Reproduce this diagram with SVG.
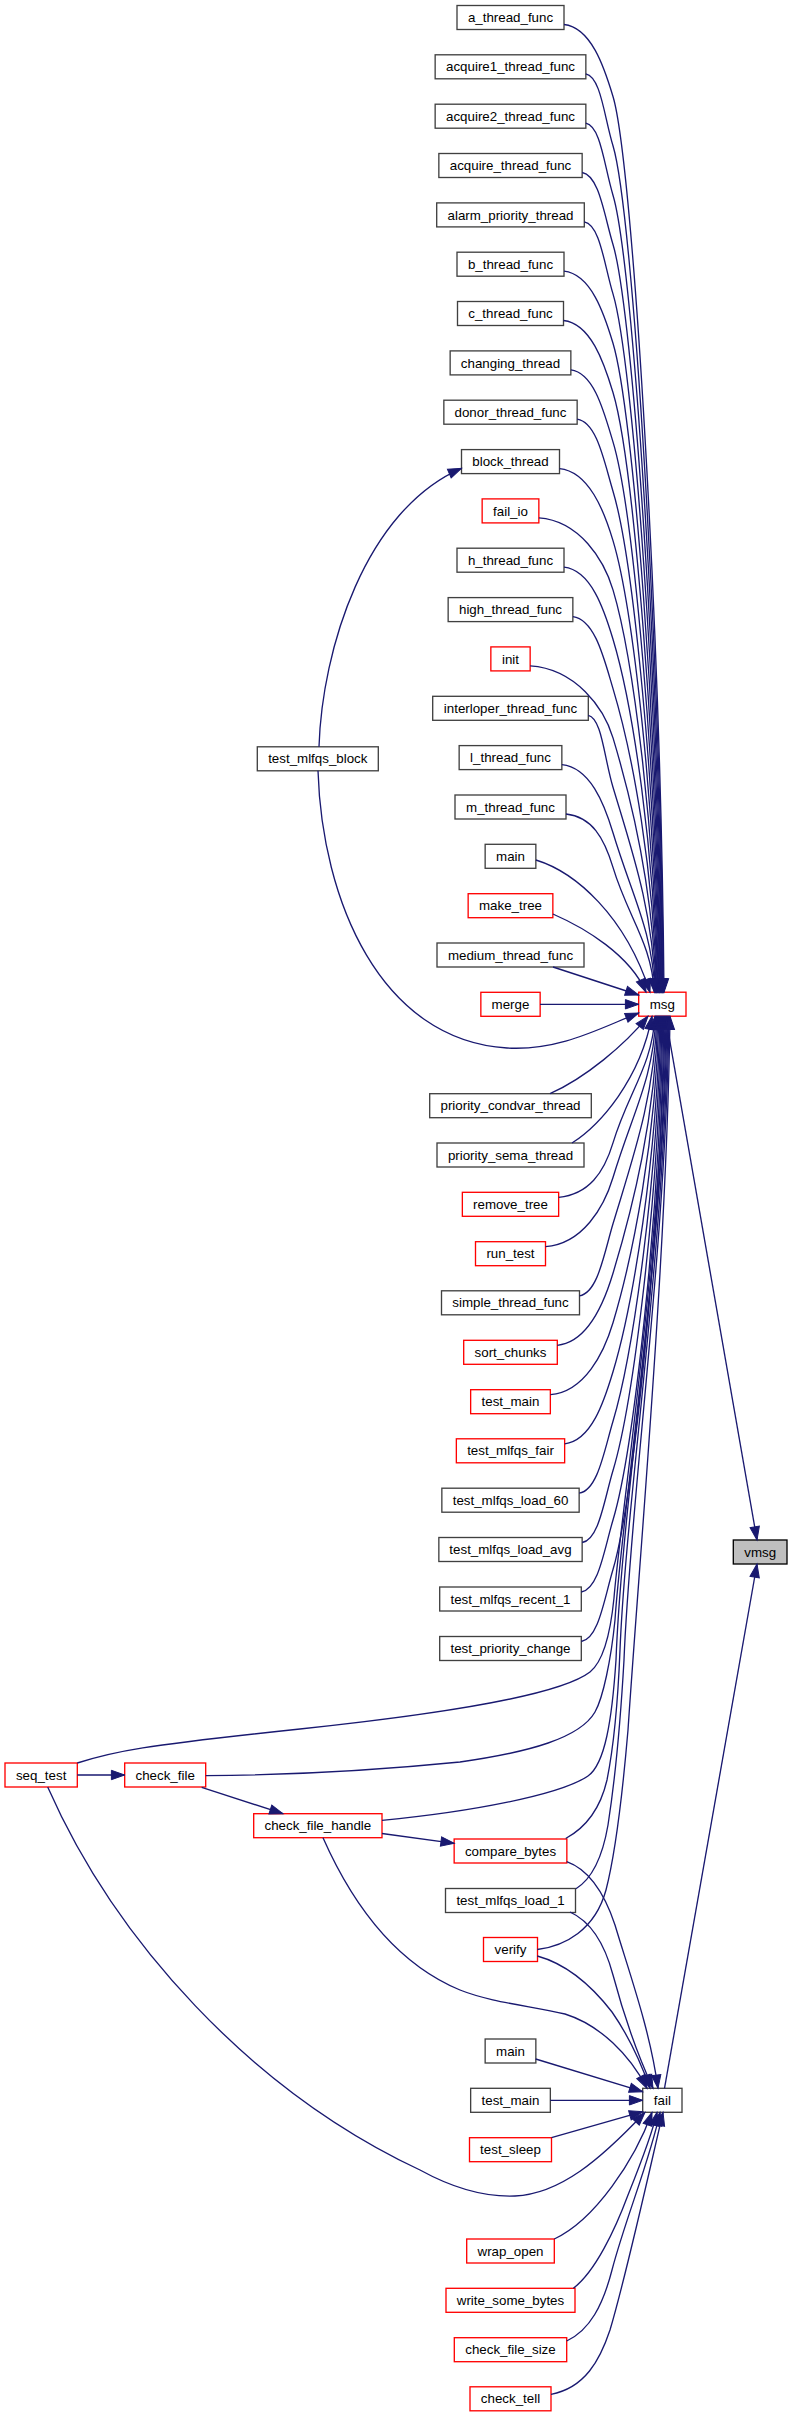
<svg xmlns="http://www.w3.org/2000/svg" width="792" height="2417" viewBox="0 0 792 2417">
<style>
.n rect{fill:#ffffff;stroke:#404040;stroke-width:1.33}
.r rect{fill:#ffffff;stroke:#ff0000;stroke-width:1.33}
.g rect{fill:#bfbfbf;stroke:#000000;stroke-width:1.33}
text{font-family:"Liberation Sans",Arial,Helvetica,sans-serif;font-size:13.33px;text-anchor:middle;fill:#000000}
#edges path{fill:none;stroke:#191970;stroke-width:1.33;marker-end:url(#ah)}
</style>
<defs>
<marker id="ah" viewBox="0 0 14 10" refX="13.3" refY="5" markerWidth="14" markerHeight="10" markerUnits="userSpaceOnUse" orient="auto" overflow="visible">
<path d="M0,0.3 L13.3,5 L0,9.7 Z" fill="#191970" stroke="#191970" stroke-width="1"/>
</marker>
</defs>
<rect x="0" y="0" width="792" height="2417" fill="#ffffff"/>
<g id="nodes">
<g id="n_a_thread_func" class="n"><rect x="457" y="5.5" width="107" height="24"/><text x="510.5" y="22.1">a_thread_func</text></g>
<g id="n_acquire1_thread_func" class="n"><rect x="435.15" y="54.8" width="150.7" height="24"/><text x="510.5" y="71.4">acquire1_thread_func</text></g>
<g id="n_acquire2_thread_func" class="n"><rect x="435.15" y="104.2" width="150.7" height="24"/><text x="510.5" y="120.8">acquire2_thread_func</text></g>
<g id="n_acquire_thread_func" class="n"><rect x="438.85" y="153.5" width="143.3" height="24"/><text x="510.5" y="170.1">acquire_thread_func</text></g>
<g id="n_alarm_priority_thread" class="n"><rect x="436.7" y="202.9" width="147.6" height="24"/><text x="510.5" y="219.5">alarm_priority_thread</text></g>
<g id="n_b_thread_func" class="n"><rect x="457" y="252.2" width="107" height="24"/><text x="510.5" y="268.8">b_thread_func</text></g>
<g id="n_c_thread_func" class="n"><rect x="457.5" y="301.5" width="106" height="24"/><text x="510.5" y="318.1">c_thread_func</text></g>
<g id="n_changing_thread" class="n"><rect x="450.15" y="350.9" width="120.7" height="24"/><text x="510.5" y="367.5">changing_thread</text></g>
<g id="n_donor_thread_func" class="n"><rect x="443.85" y="400.2" width="133.3" height="24"/><text x="510.5" y="416.8">donor_thread_func</text></g>
<g id="n_block_thread" class="n"><rect x="461.5" y="449.6" width="98" height="24"/><text x="510.5" y="466.2">block_thread</text></g>
<g id="n_fail_io" class="r"><rect x="482.15" y="498.9" width="56.7" height="24"/><text x="510.5" y="515.5">fail_io</text></g>
<g id="n_h_thread_func" class="n"><rect x="457" y="548.2" width="107" height="24"/><text x="510.5" y="564.8">h_thread_func</text></g>
<g id="n_high_thread_func" class="n"><rect x="448.15" y="597.6" width="124.7" height="24"/><text x="510.5" y="614.2">high_thread_func</text></g>
<g id="n_init" class="r"><rect x="490.85" y="646.9" width="39.3" height="24"/><text x="510.5" y="663.5">init</text></g>
<g id="n_interloper_thread_func" class="n"><rect x="432.7" y="696.3" width="155.6" height="24"/><text x="510.5" y="712.9">interloper_thread_func</text></g>
<g id="n_l_thread_func" class="n"><rect x="459.15" y="745.6" width="102.7" height="24"/><text x="510.5" y="762.2">l_thread_func</text></g>
<g id="n_m_thread_func" class="n"><rect x="455" y="795" width="111" height="24"/><text x="510.5" y="811.6">m_thread_func</text></g>
<g id="n_main1" class="n"><rect x="485.15" y="844.3" width="50.7" height="24"/><text x="510.5" y="860.9">main</text></g>
<g id="n_make_tree" class="r"><rect x="468.15" y="893.7" width="84.7" height="24"/><text x="510.5" y="910.3">make_tree</text></g>
<g id="n_medium_thread_func" class="n"><rect x="437" y="943" width="147" height="24"/><text x="510.5" y="959.6">medium_thread_func</text></g>
<g id="n_merge" class="r"><rect x="480.85" y="992.3" width="59.3" height="24"/><text x="510.5" y="1008.9">merge</text></g>
<g id="n_priority_condvar_thread" class="n"><rect x="429.7" y="1093.7" width="161.6" height="24"/><text x="510.5" y="1110.3">priority_condvar_thread</text></g>
<g id="n_priority_sema_thread" class="n"><rect x="437" y="1143" width="147" height="24"/><text x="510.5" y="1159.6">priority_sema_thread</text></g>
<g id="n_remove_tree" class="r"><rect x="462.35" y="1192.3" width="96.3" height="24"/><text x="510.5" y="1208.9">remove_tree</text></g>
<g id="n_run_test" class="r"><rect x="475.5" y="1241.7" width="70" height="24"/><text x="510.5" y="1258.3">run_test</text></g>
<g id="n_simple_thread_func" class="n"><rect x="441.5" y="1290.8" width="138" height="24"/><text x="510.5" y="1307.4">simple_thread_func</text></g>
<g id="n_sort_chunks" class="r"><rect x="463.7" y="1340.3" width="93.6" height="24"/><text x="510.5" y="1356.9">sort_chunks</text></g>
<g id="n_test_main1" class="r"><rect x="470.65" y="1389.7" width="79.7" height="24"/><text x="510.5" y="1406.3">test_main</text></g>
<g id="n_test_mlfqs_fair" class="r"><rect x="456.35" y="1438.8" width="108.3" height="24"/><text x="510.5" y="1455.4">test_mlfqs_fair</text></g>
<g id="n_test_mlfqs_load_60" class="n"><rect x="441.85" y="1488.2" width="137.3" height="24"/><text x="510.5" y="1504.8">test_mlfqs_load_60</text></g>
<g id="n_test_mlfqs_load_avg" class="n"><rect x="438.85" y="1537.5" width="143.3" height="24"/><text x="510.5" y="1554.1">test_mlfqs_load_avg</text></g>
<g id="n_test_mlfqs_recent_1" class="n"><rect x="439.7" y="1587" width="141.6" height="24"/><text x="510.5" y="1603.6">test_mlfqs_recent_1</text></g>
<g id="n_test_priority_change" class="n"><rect x="439.7" y="1636.5" width="141.6" height="24"/><text x="510.5" y="1653.1">test_priority_change</text></g>
<g id="n_compare_bytes" class="r"><rect x="454.15" y="1839" width="112.7" height="24"/><text x="510.5" y="1855.6">compare_bytes</text></g>
<g id="n_test_mlfqs_load_1" class="n"><rect x="445.5" y="1888.5" width="130" height="24"/><text x="510.5" y="1905.1">test_mlfqs_load_1</text></g>
<g id="n_verify" class="r"><rect x="483.5" y="1937.5" width="54" height="24"/><text x="510.5" y="1954.1">verify</text></g>
<g id="n_main2" class="n"><rect x="485.15" y="2039" width="50.7" height="24"/><text x="510.5" y="2055.6">main</text></g>
<g id="n_test_main2" class="n"><rect x="470.65" y="2088.3" width="79.7" height="24"/><text x="510.5" y="2104.9">test_main</text></g>
<g id="n_test_sleep" class="r"><rect x="469.5" y="2137.7" width="82" height="24"/><text x="510.5" y="2154.3">test_sleep</text></g>
<g id="n_wrap_open" class="r"><rect x="466.7" y="2239" width="87.6" height="24"/><text x="510.5" y="2255.6">wrap_open</text></g>
<g id="n_write_some_bytes" class="r"><rect x="446" y="2288.3" width="129" height="24"/><text x="510.5" y="2304.9">write_some_bytes</text></g>
<g id="n_check_file_size" class="r"><rect x="454.3" y="2337.7" width="112.4" height="24"/><text x="510.5" y="2354.3">check_file_size</text></g>
<g id="n_check_tell" class="r"><rect x="470" y="2386.8" width="81" height="24"/><text x="510.5" y="2403.4">check_tell</text></g>
<g id="n_msg" class="r"><rect x="638.7" y="992.2" width="47.3" height="24"/><text x="662.35" y="1008.8">msg</text></g>
<g id="n_fail" class="n"><rect x="642.7" y="2088.3" width="39.3" height="24"/><text x="662.35" y="2104.9">fail</text></g>
<g id="n_vmsg" class="g"><rect x="733.3" y="1540" width="53.7" height="24"/><text x="760.15" y="1556.6">vmsg</text></g>
<g id="n_seq_test" class="r"><rect x="5" y="1763" width="72.3" height="24"/><text x="41.15" y="1779.6">seq_test</text></g>
<g id="n_check_file" class="r"><rect x="124.7" y="1763" width="81" height="24"/><text x="165.2" y="1779.6">check_file</text></g>
<g id="n_check_file_handle" class="r"><rect x="253.7" y="1813.7" width="128.3" height="24"/><text x="317.85" y="1830.3">check_file_handle</text></g>
<g id="n_test_mlfqs_block" class="n"><rect x="257.3" y="746.8" width="121" height="24"/><text x="317.8" y="763.4">test_mlfqs_block</text></g>
</g>
<g id="edges">
<path d="M564,24.5 C591,27.5 604,66.5 613,96.5 C633,163.1 661,633.8 664,992.2"/>
<path d="M585.8,73.8 C600.8,76.8 604,115.8 613,145.8 C633,212.4 660.4,653.5 663.4,992.2"/>
<path d="M585.8,123.2 C600.8,126.2 604,165.2 613,195.2 C633,261.8 659.8,673.3 662.8,992.2"/>
<path d="M582.2,172.5 C599.1,175.5 604,214.5 613,244.5 C633,311.1 659.2,693 662.2,992.2"/>
<path d="M584.3,221.9 C600.1,224.9 604,263.9 613,293.9 C633,360.5 658.6,712.8 661.6,992.2"/>
<path d="M564,271.2 C591,274.2 604,313.2 613,343.2 C633,409.8 658,732.5 661,992.2"/>
<path d="M563.5,320.5 C590.7,323.5 604,362.5 613,392.5 C633,459.1 657.4,752.2 660.4,992.2"/>
<path d="M570.9,369.9 C594.1,372.9 604,411.9 613,441.9 C633,508.5 656.8,772 659.8,992.2"/>
<path d="M577.2,419.2 C596.9,422.2 604,461.2 613,491.2 C633,557.8 656.2,791.7 659.2,992.2"/>
<path d="M559.5,468.6 C588.9,471.6 604,510.6 613,540.6 C633,607.2 655.6,811.4 658.6,992.2"/>
<path d="M538.9,517.9 C579.7,520.9 604,559.9 613,589.9 C633,656.5 655,831.2 658,992.2"/>
<path d="M564,567.2 C591,570.2 604,609.2 613,639.2 C633,705.8 654.4,850.9 657.4,992.2"/>
<path d="M572.9,616.6 C595,619.6 604,658.6 613,688.6 C633,755.2 653.8,870.6 656.8,992.2"/>
<path d="M530.2,665.9 C575.7,668.9 604,707.9 613,737.9 C633,804.5 653.2,890.4 656.2,992.2"/>
<path d="M588.3,715.3 C601.9,718.3 604,757.3 613,787.3 C633,853.9 652.6,910.1 655.6,992.2"/>
<path d="M561.9,764.6 C590,767.6 604,802.8 613,832.8 C632.1,896.4 652,928.3 655,992.2"/>
<path d="M566,814 C591.9,817 604,837.4 613,867.4 C628,917.4 651.4,942.2 654.4,992.2"/>
<path d="M535.9,860 C575,872 625,915 650,992.2"/>
<path d="M552.9,914 C585,928 630,955 646,992.2"/>
<path d="M553,967 L638.7,995"/>
<path d="M540,1004.3 L638.7,1004.3"/>
<path d="M318,770.8 C322,900 380,1040 507,1048 C560,1051 600,1028 638.7,1013"/>
<path d="M319,746.8 C322,650 365,510 461.5,468.3"/>
<path d="M550,1093.7 C585,1078 625,1045 648,1016.2"/>
<path d="M572,1143 C600,1125 640,1080 652,1016.2"/>
<path d="M558.7,1197.3 C588.6,1194.3 604,1172.9 613,1142.9 C628.2,1092.3 652,1066.8 655,1016.2"/>
<path d="M545.5,1246.7 C582.6,1243.7 604,1207.5 613,1177.5 C632.4,1112.9 653,1080.6 656,1016.2"/>
<path d="M579.5,1295.8 C597.9,1292.8 604,1253.8 613,1223.8 C633,1157.2 654,1099.1 657,1016.2"/>
<path d="M557.3,1345.3 C587.9,1342.3 604,1303.3 613,1273.3 C633,1206.7 655,1118.9 658,1016.2"/>
<path d="M550.4,1394.7 C584.8,1391.7 604,1352.7 613,1322.7 C633,1256.1 656,1138.7 659,1016.2"/>
<path d="M564.7,1443.8 C591.3,1440.8 604,1401.8 613,1371.8 C633,1305.2 657,1158.3 660,1016.2"/>
<path d="M579.2,1493.2 C597.8,1490.2 604,1451.2 613,1421.2 C633,1354.6 658,1178.1 661,1016.2"/>
<path d="M582.2,1542.5 C599.1,1539.5 604,1500.5 613,1470.5 C633,1403.9 659,1197.8 662,1016.2"/>
<path d="M581.3,1592 C598.7,1589 604,1550 613,1520 C633,1453.4 660,1217.6 663,1016.2"/>
<path d="M581.3,1641.5 C598.7,1638.5 604,1599.5 613,1569.5 C633,1502.9 661,1237.4 664,1016.2"/>
<path d="M77.3,1763 C115,1751 140,1746 300,1729 C450,1713 560,1695 590,1672 C605,1660 611,1628 614,1598 C620,1520 662,1250 665,1016.2"/>
<path d="M205.7,1775.7 C300,1775 380,1770 460,1762 C530,1752 580,1738 595,1712 C603,1698 611,1660 615,1620 C622,1510 663,1260 666,1016.2"/>
<path d="M382,1820.3 C470,1812 560,1795 588,1776 C605,1764 612,1720 616,1660 C622,1500 664,1250 667,1016.2"/>
<path d="M565.7,1838.5 C585,1828 600,1810 607,1780 C615,1740 618,1700 620,1650 C626,1500 665,1250 668,1016.2"/>
<path d="M576,1888.7 C590,1880 602,1860 608,1825 C615,1780 620,1730 624,1660 C630,1500 666,1250 669,1016.2"/>
<path d="M537.3,1949.5 C565,1946 595,1930 606,1890 C615,1855 622,1800 628,1730 C640,1550 667,1250 670,1016.2"/>
<path d="M665.5,1016.2 L757,1540"/>
<path d="M664.5,2088.3 L757,1564"/>
<path d="M77.3,1775 L124.7,1775"/>
<path d="M201.7,1787.3 L283,1813.7"/>
<path d="M382,1833.5 L454.2,1843.3"/>
<path d="M566.7,1861.7 C590,1870 605,1895 615,1925 C630,1975 650,2030 658,2088.3"/>
<path d="M570,1912 C592,1922 605,1945 613,1975 C625,2020 640,2060 653,2088.3"/>
<path d="M537.3,1956 C570,1965 595,1990 612,2012 C628,2035 640,2060 650,2088.3"/>
<path d="M323,1837.7 C355,1910 400,1965 460,1990 C490,2002 530,2006 565,2014 C600,2025 630,2055 647,2088.3"/>
<path d="M47.7,1787 C115,1940 250,2090 420,2170 C460,2192 490,2197 515,2196 C560,2194 600,2160 645,2112.3"/>
<path d="M535.7,2059 L642.7,2091.7"/>
<path d="M550.3,2100.3 L642.7,2100.3"/>
<path d="M551.5,2137.7 L642.7,2111.7"/>
<path d="M554.3,2239 C595,2220 635,2160 652,2112.3"/>
<path d="M573.3,2288.3 C595,2272 615,2230 628,2195 C640,2165 652,2135 657,2112.3"/>
<path d="M566.7,2341 C590,2330 603,2305 612,2270 C625,2220 650,2160 660,2112.3"/>
<path d="M551,2394.3 C585,2388 600,2360 610,2330 C625,2280 645,2190 663,2112.3"/>
</g>
</svg>
